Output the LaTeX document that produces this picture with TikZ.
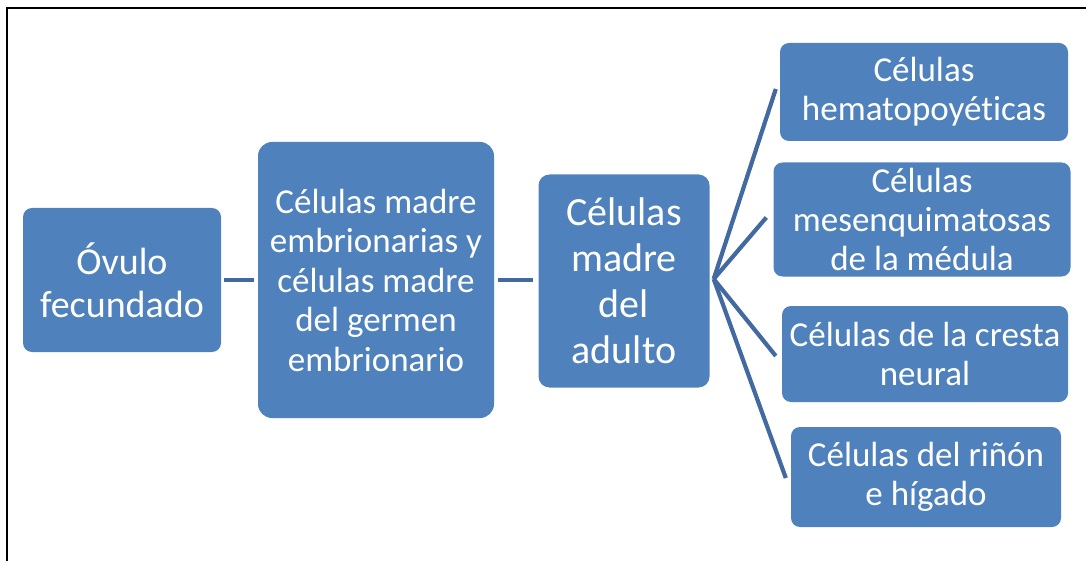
\documentclass[tikz,border=0pt]{standalone}
\usepackage{fontspec}
\setmainfont{Carlito}[Ligatures=NoCommon]
\definecolor{boxblue}{RGB}{79,129,189}
\definecolor{conn}{RGB}{66,106,160}
\begin{document}
\begin{tikzpicture}[x=1pt,y=-1pt,
  box/.style={draw=none,fill=boxblue,rounded corners=9pt,text=white,align=center,inner sep=0pt},
  bigtxt/.style={font=\fontsize{38}{43}\selectfont},
  midtxt/.style={font=\fontsize{35}{39.5}\selectfont},
  adtxt/.style={font=\fontsize{40}{46}\selectfont},
  smtxt/.style={font=\fontsize{35}{39}\selectfont},
  link/.style={draw=conn,line width=4.5pt},
  fan/.style={draw=conn,line width=4.2pt}]
\useasboundingbox (0,0) rectangle (1086,561);
\draw[line width=2pt] (7,563) -- (7,8) -- (1088,8);

\node[box,bigtxt,minimum width=198pt,minimum height=144pt] (ov) at (122,280) {Óvulo\\fecundado};
\node[box,midtxt,rounded corners=14pt,minimum width=236pt,minimum height=276pt] (emb) at (376,280) {Células madre\\embrionarias y\\células madre\\del germen\\embrionario};
\node[box,adtxt,rounded corners=11pt,minimum width=171pt,minimum height=213pt] (ad) at (624,281) {Células\\madre\\del\\adulto};
\node[box,smtxt,minimum width=288pt,minimum height=98pt] (he) at (924,92) {Células\\hematopoyéticas};
\node[box,smtxt,minimum width=297pt,minimum height=114pt] (me) at (922,219.5) {Células\\mesenquimatosas\\de la médula};
\node[box,smtxt,minimum width=286pt,minimum height=96pt] (cr) at (925,354) {Células de la cresta\\neural};
\node[box,smtxt,minimum width=270pt,minimum height=100pt] (ri) at (926,477) {Células del riñón\\e hígado};

\coordinate (ovR) at ([xshift=3pt]ov.east);
\coordinate (embL) at ([xshift=-4pt]emb.west);
\coordinate (embR) at ([xshift=4pt]emb.east);
\coordinate (adL) at ([xshift=-5pt]ad.west);
\coordinate (hub) at ([xshift=4pt,yshift=2pt]ad.east);
\coordinate (heL) at ([xshift=-4pt,yshift=3pt]he.west);
\coordinate (meL) at ([xshift=-7pt,yshift=2pt]me.west);
\coordinate (crL) at ([xshift=-6pt,yshift=-2pt]cr.west);
\coordinate (riL) at ([xshift=-5pt,yshift=-1pt]ri.west);

\draw[link] (ovR) -- (embL);
\draw[link] (embR) -- (embR -| adL);
\draw[fan] (hub) -- (heL);
\draw[fan] (hub) -- (meL);
\draw[fan] (hub) -- (crL);
\draw[fan] (hub) -- (riL);
\end{tikzpicture}
\end{document}
